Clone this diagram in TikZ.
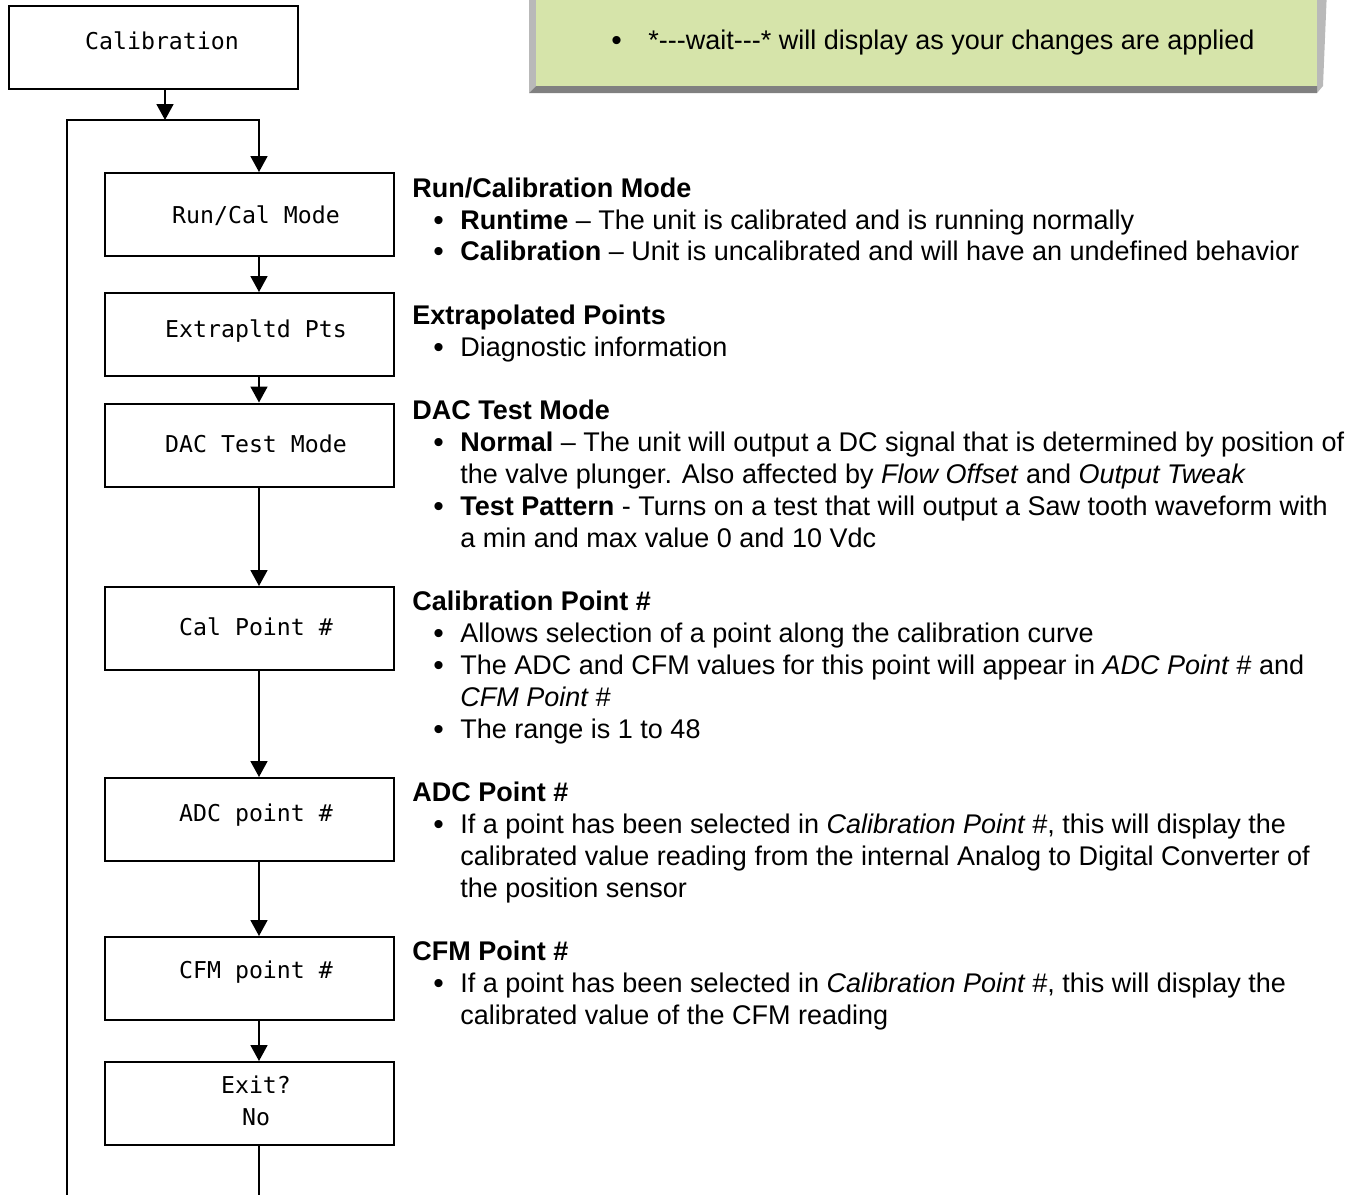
\documentclass[tikz,border=0pt]{standalone}
\usepackage{fontspec}
\setmainfont{Liberation Sans}
\newfontfamily\boxfont{DejaVu Sans Mono}
\usetikzlibrary{arrows.meta,calc}
\definecolor{notegreen}{HTML}{D6E4AA}
\definecolor{bevlight}{HTML}{B9B9B9}
\definecolor{bevdark}{HTML}{808080}
\tikzset{
  stepbox/.style={draw=black, line width=1pt, minimum width=144.5pt, minimum height=41.5pt, inner sep=0pt},
  boxtxt/.style={font=\boxfont\fontsize{11.6pt}{14.5pt}\selectfont, align=center, inner sep=0pt},
  conn/.style={line width=0.9pt},
  arr/.style={conn, -{Triangle[width=8.5pt,length=8pt]}},
  head/.style={anchor=base west, inner sep=0pt, font=\fontsize{13.5pt}{16pt}\selectfont\bfseries},
  body/.style={anchor=base west, inner sep=0pt, font=\fontsize{13.5pt}{16pt}\selectfont},
  bul/.style={anchor=base west, inner sep=0pt, font=\fontsize{15pt}{16pt}\selectfont},
}
\begin{document}
\begin{tikzpicture}[x=0.5pt,y=-0.5pt]
\useasboundingbox (0,0) rectangle (1362,1195);
% note box with bevel
\fill[bevlight] (529,-10) -- (536,-10) -- (536,86) -- (529,93) -- cycle;
\fill[bevlight] (1317,-10) -- (1327,-10) -- (1323,86) -- (1317,93) -- cycle;
\fill[bevdark] (529,93) -- (536,86) -- (1317,86) -- (1317,93) -- cycle;
\fill[notegreen] (536,-10) rectangle (1317,86);
\node[bul] (nb) at (611,50) {•};
\node[body] (nt) at (648,49) {*-\kern0pt-\kern0pt-wait-\kern0pt-\kern0pt-* will display as your changes are applied};

% boxes
\node[stepbox] (cal) at (153.5,47) {};
\node[boxtxt] (calT) at (162,41) {Calibration};
\node[stepbox] (run) at (249.5,214.5) {};
\node[boxtxt] (runT) at (256,216) {Run/Cal Mode};
\node[stepbox] (ext) at (249.5,334.5) {};
\node[boxtxt] (extT) at (256,331) {Extrapltd Pts};
\node[stepbox] (dac) at (249.5,445) {};
\node[boxtxt] (dacT) at (256,444) {DAC Test Mode};
\node[stepbox] (cpt) at (249.5,628.5) {};
\node[boxtxt] (cptT) at (256,627) {Cal Point \#};
\node[stepbox] (adc) at (249.5,819.5) {};
\node[boxtxt] (adcT) at (256,815) {ADC point \#};
\node[stepbox] (cfm) at (249.5,978.5) {};
\node[boxtxt] (cfmT) at (256,972) {CFM point \#};
\node[stepbox] (exit) at (249.5,1103.5) {};
\node[boxtxt] (exitT) at (256,1100.5) {Exit?\\[1.5pt]No};

% connectors
\coordinate (ax) at (259,0);
\coordinate (j) at (165,120);
\coordinate (lt) at (67,120);
\coordinate (rt) at (259,120);
\coordinate (lb) at (67,1200);
\coordinate (eb) at (259,1200);
\draw[arr] (cal.south -| j) -- (j);
\draw[arr] (lb) -- (lt) -- (rt) -- (run.north -| rt);
\draw[arr] (run.south -| ax) -- (ext.north -| ax);
\draw[arr] (ext.south -| ax) -- (dac.north -| ax);
\draw[arr] (dac.south -| ax) -- (cpt.north -| ax);
\draw[arr] (cpt.south -| ax) -- (adc.north -| ax);
\draw[arr] (adc.south -| ax) -- (cfm.north -| ax);
\draw[arr] (cfm.south -| ax) -- (exit.north -| ax);
\draw[conn] (exit.south -| ax) -- (eb);

% descriptions
\node[head] (h1) at (412,197) {Run/Calibration Mode};
\node[bul] (b11) at (433,230) {•};
\node[body] (t11) at (460,229) {\textbf{Runtime} – The unit is calibrated and is running normally};
\node[bul] (b12) at (433,261) {•};
\node[body] (t12) at (460,260) {\textbf{Calibration} – Unit is uncalibrated and will have an undefined behavior};

\node[head] (h2) at (412,324) {Extrapolated Points};
\node[bul] (b21) at (433,357) {•};
\node[body] (t21) at (460,356) {Diagnostic information};

\node[head] (h3) at (412,419) {DAC Test Mode};
\node[bul] (b31) at (433,452) {•};
\node[body] (t31) at (460,451) {\textbf{Normal} – The unit will output a DC signal that is determined by position of};
\node[body] (t32) at (460,483) {the valve plunger. Also affected by \textit{Flow Offset} and \textit{Output Tweak}};
\node[bul] (b33) at (433,516) {•};
\node[body] (t33) at (460,515) {\textbf{Test Pattern} - Turns on a test that will output a Saw tooth waveform with};
\node[body] (t34) at (460,547) {a min and max value 0 and 10 Vdc};

\node[head] (h4) at (412,610) {Calibration Point \#};
\node[bul] (b41) at (433,643) {•};
\node[body] (t41) at (460,642) {Allows selection of a point along the calibration curve};
\node[bul] (b42) at (433,675) {•};
\node[body] (t42) at (460,674) {The ADC and CFM values for this point will appear in \textit{ADC Point \#} and};
\node[body] (t43) at (460,706) {\textit{CFM Point \#}};
\node[bul] (b44) at (433,739) {•};
\node[body] (t44) at (460,738) {The range is 1 to 48};

\node[head] (h5) at (412,801) {ADC Point \#};
\node[bul] (b51) at (433,834) {•};
\node[body] (t51) at (460,833) {If a point has been selected in \textit{Calibration Point \#}, this will display the};
\node[body] (t52) at (460,865) {calibrated value reading from the internal Analog to Digital Converter of};
\node[body] (t53) at (460,897) {the position sensor};

\node[head] (h6) at (412,960) {CFM Point \#};
\node[bul] (b61) at (433,993) {•};
\node[body] (t61) at (460,992) {If a point has been selected in \textit{Calibration Point \#}, this will display the};
\node[body] (t62) at (460,1024) {calibrated value of the CFM reading};
\end{tikzpicture}
\end{document}
